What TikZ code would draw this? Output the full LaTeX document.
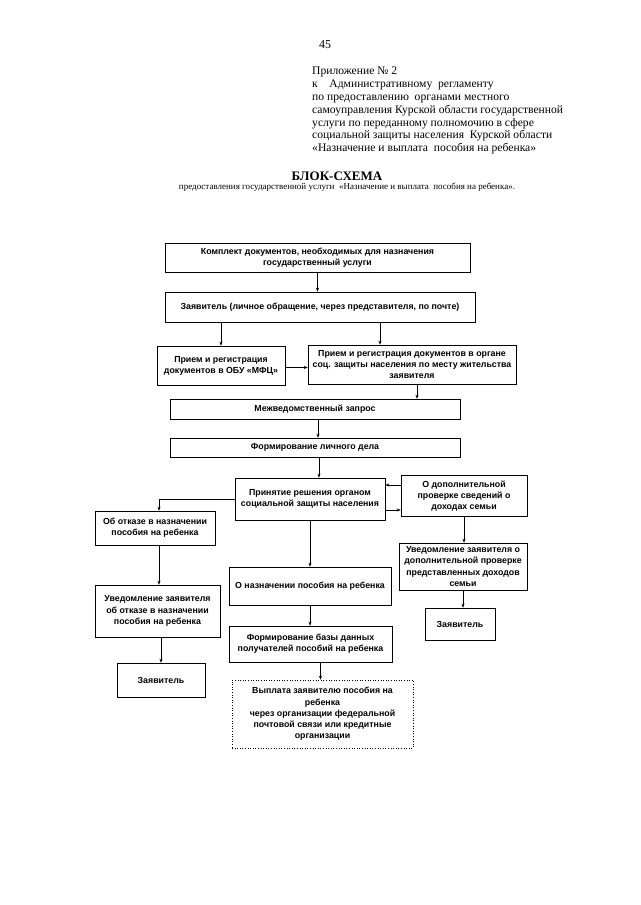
\documentclass[tikz,border=0pt]{standalone}
\usepackage{fontspec}
\setmainfont{Liberation Serif}
\setsansfont{Liberation Sans}
\usetikzlibrary{arrows.meta,positioning,calc}

\tikzset{
  blk/.style={draw, line width=0.6pt, align=center, inner sep=1pt,
    font=\sffamily\bfseries\fontsize{8.8}{11.2}\selectfont},
  dotblk/.style={blk, dotted}
}

\begin{document}
\begin{tikzpicture}[x=1pt, y=-1pt, >={Stealth[length=4pt,width=3pt]}]
  \useasboundingbox (0,0) rectangle (640,905);

  % Header
  \node (pagenum) at (325,45) {\fontsize{12}{13}\selectfont 45};
  \node[anchor=north west, align=left, inner sep=0pt,
    font=\fontsize{11.6}{12.8}\selectfont] (annex) at (312,67)
    {Приложение № 2\\
     к\quad Административному\ \ регламенту\\
     по предоставлению\ \ органами местного\\
     самоуправления Курской области государственной\\
     услуги по переданному полномочию в сфере\\
     социальной защиты населения\ \ Курской области\\
     «Назначение и выплата\ \ пособия на ребенка»};
  \node[font=\bfseries\fontsize{13}{14}\selectfont] (title) at (337,176) {БЛОК-СХЕМА};
  \node[font=\fontsize{9}{10}\selectfont] (subtitle) at (347,187)
    {предоставления государственной услуги\ \ «Назначение и выплата\ \ пособия на ребенка».};

  % Define boxes
  \node[blk, minimum width=305, minimum height=29] (kit) at (317.5,257.5)
    {Комплект документов, необходимых для назначения\\ государственный услуги};
  \node[blk, minimum width=310, minimum height=30] (appl) at (320,307)
    {Заявитель (личное обращение, через представителя, по почте)};
  \node[blk, minimum width=128, minimum height=39] (mfc) at (221,365.5)
    {Прием и регистрация\\ документов в ОБУ «МФЦ»};
  \node[blk, minimum width=208, minimum height=39] (organ) at (412,364.5)
    {Прием и регистрация документов в органе\\ соц. защиты населения по месту жительства\\ заявителя};
  \node[blk, minimum width=290, minimum height=20] (req) at (315,409)
    {Межведомственный запрос};
  \node[blk, minimum width=290, minimum height=19] (file) at (315,447.5)
    {Формирование личного дела};
  \node[blk, minimum width=150, minimum height=42] (dec) at (310,499)
    {Принятие решения органом\\ социальной защиты населения};
  \node[blk, minimum width=126, minimum height=41] (check) at (464,496)
    {О дополнительной\\ проверке сведений о\\ доходах семьи};
  \node[blk, minimum width=120, minimum height=34] (refuse) at (155,528)
    {Об отказе в назначении\\ пособия на ребенка};
  \node[blk, minimum width=125, minimum height=52] (nrefuse) at (157.5,611)
    {Уведомление заявителя\\ об отказе в назначении\\ пособия на ребенка};
  \node[blk, minimum width=88, minimum height=34] (applL) at (161,680)
    {Заявитель};
  \node[blk, minimum width=162, minimum height=38] (grant) at (310,586)
    {О назначении пособия на ребенка};
  \node[blk, minimum width=163, minimum height=36] (base) at (310.5,644)
    {Формирование базы данных\\ получателей пособий на ребенка};
  \node[dotblk, minimum width=181, minimum height=68] (pay) at (322.5,714)
    {Выплата заявителю пособия на\\ ребенка\\ через организации федеральной\\ почтовой связи или кредитные\\ организации};
  \node[blk, minimum width=128, minimum height=47] (ncheck) at (463,566.5)
    {Уведомление заявителя о\\ дополнительной проверке\\ представленных доходов\\ семьи};
  \node[blk, minimum width=70, minimum height=32] (applR) at (460,624)
    {Заявитель};

  % Draw arrows between boxes
  \draw[->] (kit.south) -- (kit.south |- appl.north);
  \draw[->] (appl.south -| mfc.north) -- (mfc.north);
  \draw[->] ([xshift=-32]appl.south -| organ.north) -- ([xshift=-32]organ.north);
  \draw[->] ([yshift=-2]mfc.east) -- ([yshift=-2]mfc.east -| organ.west);
  \draw[->] ([xshift=5]organ.south) -- ([xshift=5]organ.south |- req.north);
  \draw[->] ([xshift=3]req.south) -- ([xshift=3]file.north);
  \draw[->] ([xshift=4]file.south) -- ([xshift=4]file.south |- dec.north);
  \draw[->] ([yshift=11]check.west) -- ([yshift=11]check.west -| dec.east);
  \draw[->] ([yshift=-11]dec.east) -- ([yshift=-11]dec.east -| check.west);
  \draw[->] (dec.west) -| ([xshift=4]refuse.north);
  \draw[->] ([xshift=4]refuse.south) -- ([xshift=4]refuse.south |- nrefuse.north);
  \draw[->] (applL.north |- nrefuse.south) -- (applL.north);
  \draw[->] (dec.south) -- (dec.south |- grant.north);
  \draw[->] (grant.south) -- (grant.south |- base.north);
  \draw[->] ([xshift=10]base.south) -- ([xshift=10]base.south |- pay.north);
  \draw[->] (check.south) -- (check.south |- ncheck.north);
  \draw[->] (ncheck.south) -- (ncheck.south |- applR.north);
\end{tikzpicture}
\end{document}
